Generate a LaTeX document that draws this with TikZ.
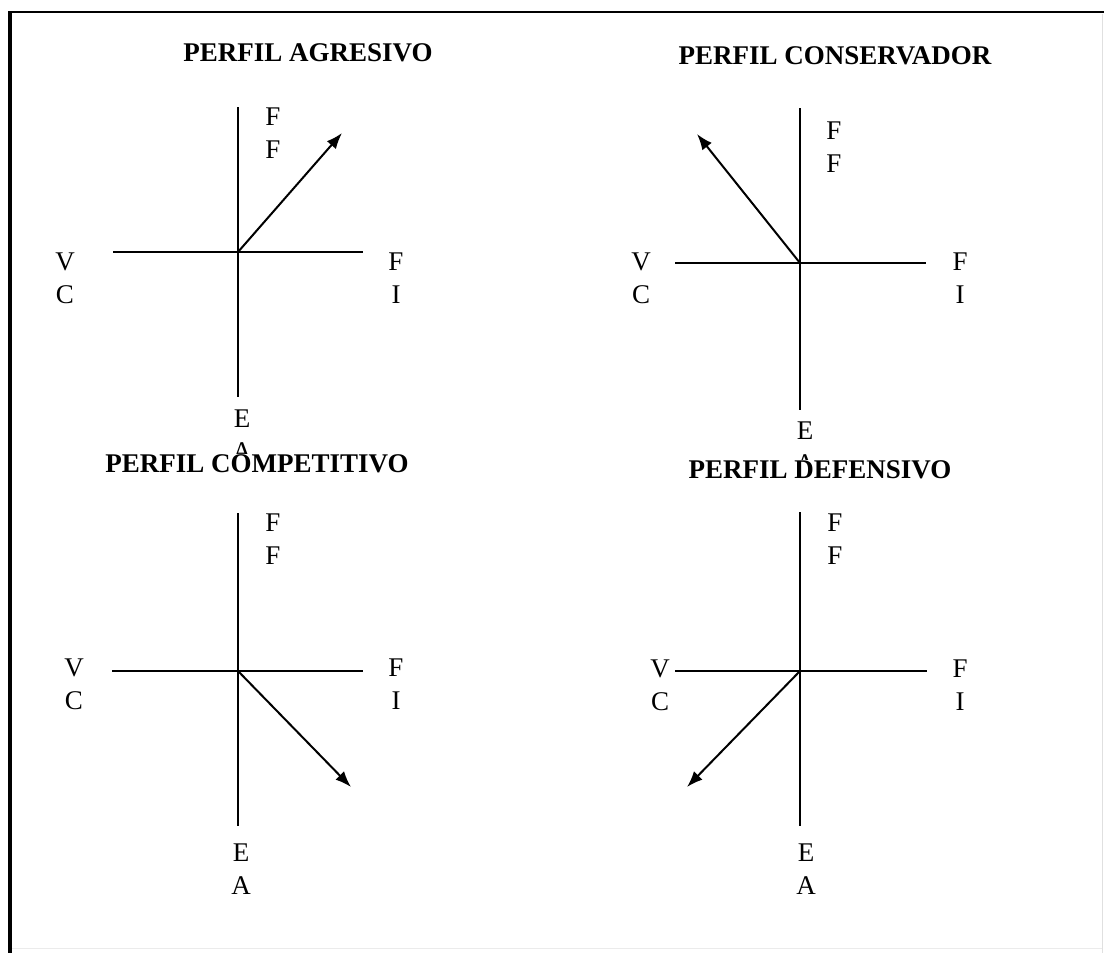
\documentclass[tikz,border=0pt]{standalone}
\usepackage{fontspec}
\setmainfont{Liberation Serif}
\usetikzlibrary{arrows.meta}
\tikzset{
  axisline/.style={line width=2pt},
  vecarrow/.style={line width=2pt,-{Latex[length=16pt,width=12pt]}},
  axlabel/.style={align=center,inner sep=0pt,font=\fontsize{27}{33}\selectfont},
  titlebox/.style={fill=white,inner sep=1pt,font=\fontsize{27}{32}\selectfont\bfseries},
}
\begin{document}
\begin{tikzpicture}[x=1pt,y=-1pt]
\useasboundingbox (0,0) rectangle (1104,953);
% frame
\draw[line width=4pt] (10,953) -- (10,12);
\draw[line width=2.5pt] (8,12) -- (1104,12);
\draw[line width=1pt,black!12] (1102,14) -- (1102,953);
\draw[line width=1pt,black!8] (12,948) -- (1102,948);

% ---------- Panel 1: agresivo ----------
\coordinate (o1) at (238,252);
\coordinate (t1) at (238,107);
\coordinate (b1) at (238,397);
\coordinate (l1) at (113,252);
\coordinate (r1) at (363,252);
\coordinate (a1) at (342,133);
\draw[axisline] (t1) -- (b1);
\draw[axisline] (l1) -- (r1);
\draw[vecarrow] (o1) -- (a1);
\node[axlabel] (ff1) at (273,133.5) {F\\F};
\node[axlabel] (vc1) at (65,278.5) {V\\C};
\node[axlabel] (fi1) at (396,278.5) {F\\I};
\node[axlabel] (ea1) at (242,435) {E\\A};
\node[titlebox] (title1) at (308,53) {PERFIL AGRESIVO};

% ---------- Panel 2: conservador ----------
\coordinate (o2) at (800,263);
\coordinate (t2) at (800,108);
\coordinate (b2) at (800,410);
\coordinate (l2) at (675,263);
\coordinate (r2) at (926,263);
\coordinate (a2) at (697,134);
\draw[axisline] (t2) -- (b2);
\draw[axisline] (l2) -- (r2);
\draw[vecarrow] (o2) -- (a2);
\node[axlabel] (ff2) at (834,147.5) {F\\F};
\node[axlabel] (vc2) at (641,278) {V\\C};
\node[axlabel] (fi2) at (960,278) {F\\I};
\node[axlabel] (ea2) at (805,447) {E\\A};
\node[titlebox] (title2) at (835,56) {PERFIL CONSERVADOR};

% ---------- Panel 3: competitivo ----------
\coordinate (o3) at (238,671);
\coordinate (t3) at (238,513);
\coordinate (b3) at (238,826);
\coordinate (l3) at (112,671);
\coordinate (r3) at (363,671);
\coordinate (a3) at (351,787);
\draw[axisline] (t3) -- (b3);
\draw[axisline] (l3) -- (r3);
\draw[vecarrow] (o3) -- (a3);
\node[axlabel] (ff3) at (273,539) {F\\F};
\node[axlabel] (vc3) at (74,684) {V\\C};
\node[axlabel] (fi3) at (396,684) {F\\I};
\node[axlabel] (ea3) at (241,869) {E\\A};
\node[titlebox] (title3) at (257,464) {PERFIL COMPETITIVO};

% ---------- Panel 4: defensivo ----------
\coordinate (o4) at (800,671);
\coordinate (t4) at (800,512);
\coordinate (b4) at (800,826);
\coordinate (l4) at (675,671);
\coordinate (r4) at (927,671);
\coordinate (a4) at (687,787);
\draw[axisline] (t4) -- (b4);
\draw[axisline] (l4) -- (r4);
\draw[vecarrow] (o4) -- (a4);
\node[axlabel] (ff4) at (835,539) {F\\F};
\node[axlabel] (vc4) at (660,685) {V\\C};
\node[axlabel] (fi4) at (960,685) {F\\I};
\node[axlabel] (ea4) at (806,869) {E\\A};
\node[titlebox] (title4) at (820,470) {PERFIL DEFENSIVO};
\end{tikzpicture}
\end{document}
